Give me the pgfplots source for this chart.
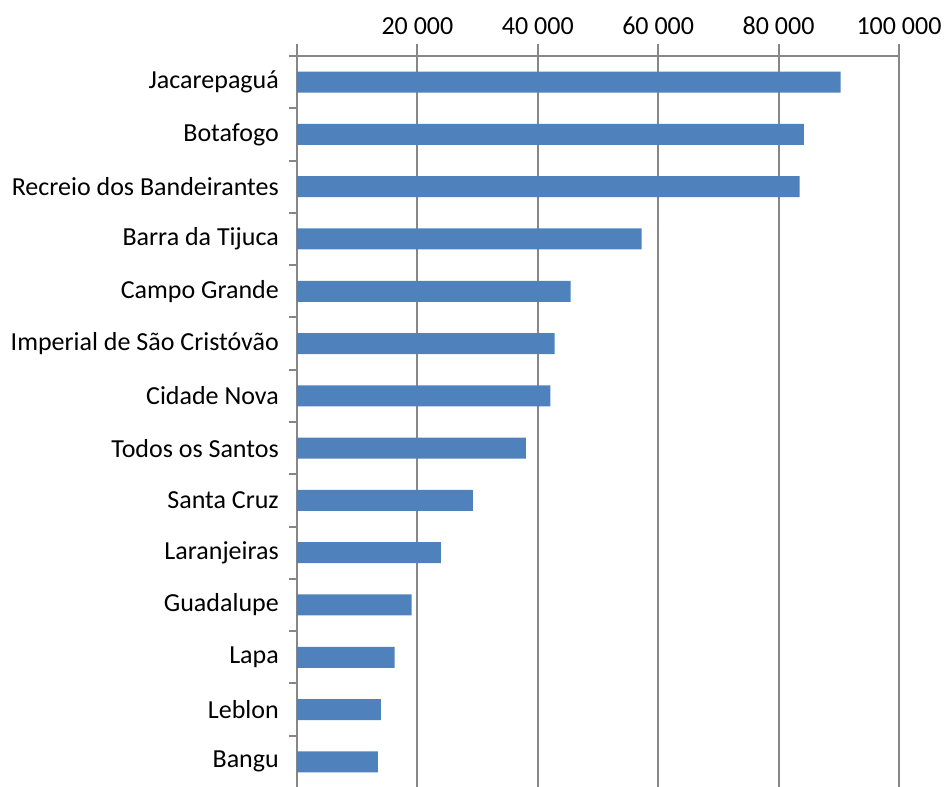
\documentclass[border=0pt]{standalone}
\usepackage{pgfplots}
\pgfplotsset{compat=1.18}
\usepackage{fontspec}
\setmainfont{Carlito}
\usetikzlibrary{calc}
\definecolor{barblue}{HTML}{4F81BD}
\definecolor{gridgray}{HTML}{878787}
\begin{document}
\begin{tikzpicture}
\begin{axis}[
  name=ax,
  scale only axis,
  width=602pt, height=732pt,
  xbar, bar width=21pt,
  xmin=0, xmax=100000,
  ymin=-0.5, ymax=13.5,
  scaled x ticks=false,
  axis x line=top, axis y line=left,
  axis line style={gridgray, line width=2pt, -},
  xtick={0,20000,40000,60000,80000,100000},
  xticklabels={,20 000,40 000,60 000,80 000,100 000},
  xmajorgrids, grid style={gridgray, line width=2pt},
  tick align=outside,
  major tick length=12pt, minor tick length=8pt,
  xtick style={gridgray, line width=2pt},
  ytick={0,...,13},
  yticklabels={Bangu, Leblon, Lapa, Guadalupe, Laranjeiras, Santa Cruz, Todos os Santos, Cidade Nova, Imperial de São Cristóvão, Campo Grande, Barra da Tijuca, Recreio dos Bandeirantes, Botafogo, Jacarepaguá},
  major y tick style={draw=none},
  minor ytick={-0.5,0.5,...,13.5},
  minor y tick style={gridgray, line width=2pt},
  tick label style={font=\fontsize{26}{31}\selectfont, text=black},
  yticklabel style={anchor=east, inner sep=0pt, xshift=-6pt},
  xticklabel style={anchor=base, inner sep=0pt, yshift=9pt},
  clip=false,
]
\addplot[fill=barblue, draw=none] coordinates {
(13450,0) (13950,1) (16200,2) (19050,3) (23900,4) (29200,5) (38000,6)
(42100,7) (42800,8) (45450,9) (57250,10) (83500,11) (84200,12) (90300,13)};
\end{axis}
\pgfresetboundingbox
\path[use as bounding box] ($(ax.south west)+(-297pt,1pt)$) rectangle ($(ax.south west)+(654pt,788pt)$);
\end{tikzpicture}
\end{document}
